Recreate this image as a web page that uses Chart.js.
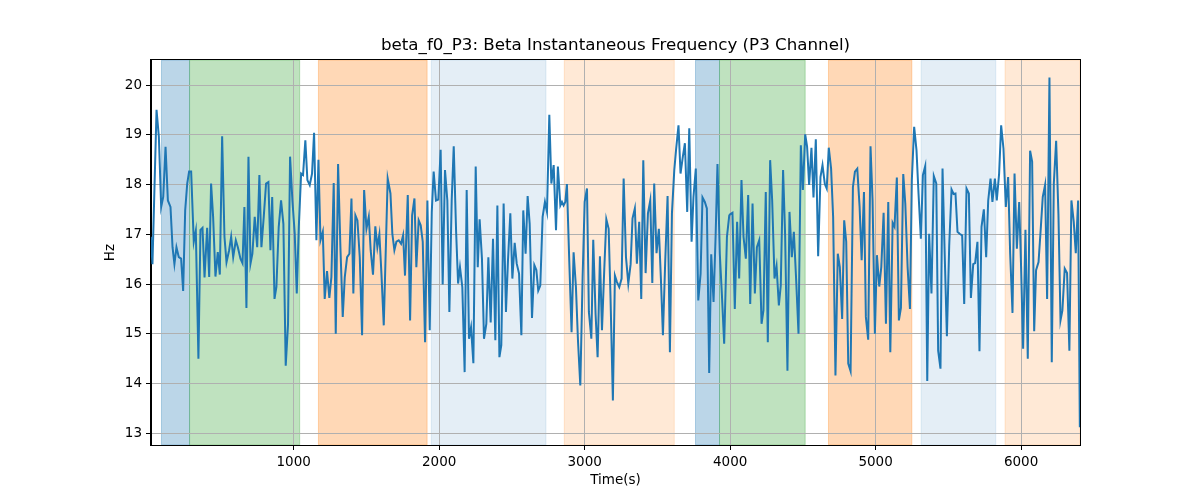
<!DOCTYPE html>
<html>
<head>
<meta charset="utf-8">
<script src="https://cdn.jsdelivr.net/npm/chart.js@4.4.0/dist/chart.umd.min.js"></script>
<style>
  html, body { margin: 0; padding: 0; background: #fff; }
</style>
</head>
<body>
<canvas id="freqChart" width="1200" height="500"></canvas>
<script>
// beta instantaneous frequency, P3 channel (time in s, value in Hz)
const times = [
  18,29,57,73,89,103,119,135,153,167,180,194,210,226,240,254,268,281,295,313,327,345,359,373,387,405,419,432,446,462,478,492,508,524,538,556,570,584,602,616,634,648,661,675,689,703,716,732,749,764,778,794,810,826,840,
  852,868,881,897,913,929,945,961,975,991,1007,1021,1035,1051,1064,1080,1094,1110,1126,1140,1156,1170,1184,1200,1213,1229,1245,1259,1275,1289,1305,1321,1337,1351,1367,1383,1397,1410,1424,1438,1454,1470,1484,1500,1516,1529,1545,1561,1575,1589,1603,1619,
  1646,1665,1678,1692,1706,1722,1738,1752,1765,1784,1800,1814,1830,1843,1859,1873,1887,1903,1919,1935,1949,1962,1978,1994,2010,2024,2040,2056,2070,2086,2100,2116,2130,2143,2159,2175,2189,2205,2219,2235,2251,2265,2278,2294,2308,2324,2338,2354,2370,2386,2400,2414,
  2427,2443,2459,2473,2489,2503,2519,2533,2549,2565,2578,2594,2608,2622,2638,2654,2668,2681,2695,2711,2727,2741,2757,2771,2787,2803,2816,2833,2844,2855,2867,2878,2894,2910,2924,2940,2954,2970,2986,3000,3016,3029,3046,3059,3075,3089,3105,3119,3135,3149,3165,3178,3194,3208,
  3222,3238,3254,3268,3284,3300,3316,3329,3345,3359,3375,3389,3403,3419,3435,3451,3465,3478,3494,3510,3524,3538,3554,3570,3586,3600,3616,3629,3645,3659,3675,3689,3705,3719,3735,3748,3764,3781,3797,3810,3826,3840,3856,3870,3886,3900,3913,3929,3943,3959,3978,3994,
  4000,4016,4032,4048,4062,4078,4092,4108,4124,4138,4154,4170,4184,4200,4216,4229,4245,4259,4275,4289,4305,4319,4335,4348,4364,4378,4394,4408,4424,4438,4454,4470,4486,4500,4516,4529,4543,4559,4573,4589,4605,4621,4635,4651,4664,4678,4694,4708,4724,4740,4754,4770,4784,
  4798,4812,4828,4844,4858,4874,4890,4904,4920,4933,4949,4965,4979,4995,5009,5025,5039,5055,5071,5087,5101,5117,5130,5146,5160,5174,5190,5204,5220,5236,5249,5265,5281,5295,5311,5325,5341,5355,5368,5384,5400,5417,5430,5446,5460,5476,5490,5506,5522,5536,5549,5563,5577,
  5595,5609,5625,5641,5655,5671,5684,5700,5714,5728,5744,5760,5774,5790,5803,5820,5833,5849,5863,5879,5895,5911,5925,5941,5955,5971,5987,6000,6014,6030,6046,6062,6076,6090,6103,6120,6136,6149,6165,6179,6195,6211,6225,6241,6257,6271,6284,6300,6316,6332,6346,6362,6376,6392,6404
];
const freqHz = [
  16.95,16.40,19.50,18.96,17.55,17.75,18.76,17.68,17.55,16.74,16.40,16.74,16.54,16.51,15.86,17.48,18.02,18.26,18.26,16.85,17.07,14.50,17.09,17.13,16.13,17.13,16.14,18.02,17.35,16.15,16.64,16.19,18.97,16.95,16.44,16.68,16.95,16.54,16.88,16.74,16.51,16.42,17.55,15.52,18.56,16.41,16.61,17.35,16.74,18.19,16.74,17.35,18.02,18.05,16.68,
  17.75,15.70,15.94,17.15,17.68,17.21,14.36,15.20,18.56,17.68,17.01,15.81,17.15,18.22,18.19,18.89,18.09,17.99,18.22,19.04,16.88,18.50,16.88,17.05,15.70,16.26,15.72,16.14,18.03,15.00,18.41,16.74,15.34,16.14,16.54,16.61,17.72,15.81,17.38,17.28,16.54,14.97,17.89,17.11,17.35,16.68,16.19,17.16,16.74,17.00,16.21,15.17,
  18.12,17.82,17.01,16.68,16.85,16.88,16.81,16.98,16.17,17.79,15.27,17.38,17.72,16.34,17.28,17.18,16.85,14.83,17.68,15.07,17.45,18.26,17.68,17.70,18.70,15.99,18.29,17.68,15.44,17.68,18.77,17.08,16.01,16.34,15.94,14.23,17.89,14.90,15.13,14.41,18.36,16.34,17.30,16.51,14.90,15.20,16.54,15.23,16.91,14.87,17.58,14.53,
  14.77,17.62,15.44,16.48,17.42,16.11,16.83,16.41,16.21,14.97,17.48,16.61,17.77,17.21,15.32,16.38,16.28,15.87,15.97,17.35,17.65,17.45,19.40,18.02,18.39,17.08,18.36,17.58,17.65,17.58,17.65,18.01,16.48,15.03,16.64,15.94,14.87,13.96,16.14,17.65,17.92,15.44,14.90,16.89,15.40,14.53,16.56,15.07,16.31,17.30,17.11,15.70,13.66,16.17,
  16.04,15.94,16.11,18.12,16.54,16.01,16.40,17.32,17.52,16.41,17.25,15.70,18.49,16.22,17.42,17.68,16.02,18.02,16.62,17.11,16.11,14.97,16.48,17.77,14.63,17.42,18.29,18.72,19.19,18.22,18.56,18.83,17.45,19.13,16.85,17.75,18.32,15.67,16.21,17.74,17.65,17.52,14.21,16.60,15.64,16.95,18.41,16.61,15.81,14.80,16.95,17.38,
  17.40,17.43,15.50,17.25,16.11,18.09,16.95,16.51,17.79,15.60,17.62,15.81,16.74,16.88,15.20,15.47,17.85,14.83,18.49,17.68,16.11,16.36,15.57,15.97,18.29,16.98,14.26,17.45,16.54,17.05,16.07,15.00,18.79,17.89,19.01,18.76,17.99,18.74,17.74,18.91,16.56,18.15,18.39,18.01,17.92,18.74,18.32,17.35,14.16,16.61,16.34,15.30,17.28,
  16.85,14.40,14.25,17.95,18.26,18.32,17.55,16.48,17.85,15.34,14.88,18.77,17.68,15.00,16.58,15.95,16.34,17.43,15.20,17.65,14.63,17.23,17.15,18.14,15.27,15.52,18.21,17.62,16.34,15.50,18.09,19.16,18.69,17.82,16.91,18.19,18.37,14.05,17.01,15.81,18.17,18.02,14.66,14.30,18.32,16.48,14.95,16.78,17.90,17.81,17.82,17.05,17.01,
  16.98,15.60,17.92,17.82,15.72,16.40,16.42,16.85,14.65,17.15,17.50,16.54,17.68,18.12,17.65,18.12,17.68,18.22,19.19,18.72,17.55,18.15,16.61,15.42,18.22,16.71,17.65,16.34,14.70,17.09,14.50,18.68,18.46,15.05,16.28,16.44,17.15,17.75,17.99,15.70,20.15,14.43,18.02,18.88,17.38,15.27,15.47,16.31,16.22,14.66,17.68,17.25,16.62,17.68,13.12
];

// shaded segments
const spanStart = [91, 284, 1170, 1946, 2860, 3762, 3927, 4676, 5313, 5890];
const spanEnd   = [284, 1041, 1917, 2734, 3616, 3927, 4516, 5249, 5826, 6405];
const spanKind  = ['blue', 'green', 'orange', 'lightblue', 'lightorange', 'blue', 'green', 'orange', 'lightblue', 'lightorange'];

const xTicks = [1000, 2000, 3000, 4000, 5000, 6000];
const yTicks = [13, 14, 15, 16, 17, 18, 19, 20];

const spanColors = {
    blue: 'rgba(31, 119, 180, 0.3)',
    green: 'rgba(44, 160, 44, 0.3)',
    orange: 'rgba(255, 127, 14, 0.3)',
    lightblue: 'rgba(31, 119, 180, 0.12)',
    lightorange: 'rgba(255, 127, 14, 0.17)'
};

const spansPlugin = {
    id: 'spans',
    beforeDraw(chart) {
        const { ctx, chartArea: a, scales: { x } } = chart;
        ctx.save();
        ctx.beginPath();
        ctx.rect(a.left, a.top, a.right - a.left, a.bottom - a.top);
        ctx.clip();
        spanStart.forEach((s, i) => {
            const x0 = x.getPixelForValue(s);
            const x1 = x.getPixelForValue(spanEnd[i]);
            ctx.fillStyle = spanColors[spanKind[i]];
            ctx.fillRect(x0, a.top, x1 - x0, a.bottom - a.top);
            ctx.strokeStyle = spanColors[spanKind[i]];
            ctx.lineWidth = 1;
            ctx.strokeRect(x0, a.top, x1 - x0, a.bottom - a.top);
        });
        ctx.restore();
    }
};

const framePlugin = {
    id: 'frame',
    afterDatasetsDraw(chart) {
        const { ctx, chartArea: a } = chart;
        ctx.save();
        ctx.strokeStyle = '#000';
        ctx.lineWidth = 1;
        ctx.strokeRect(Math.round(a.left) - 0.5, Math.round(a.top) - 0.5,
            Math.round(a.right - a.left) + 1, Math.round(a.bottom - a.top) + 1);
        ctx.restore();
    }
};

const font = { family: 'DejaVu Sans', size: 13.5 };

const ctxFreq = document.getElementById('freqChart').getContext('2d');
const freqChart = new Chart(ctxFreq, {
    type: 'line',
    data: {
        datasets: [{
            label: 'beta_f0_P3',
            data: times.map((t, i) => ({ x: t, y: freqHz[i] })),
            borderColor: '#1f77b4',
            borderWidth: 2,
            pointRadius: 0,
            tension: 0,
            fill: false
        }]
    },
    options: {
        responsive: false,
        animation: false,
        devicePixelRatio: 1,
        layout: { padding: { left: 0, right: 120, top: 0, bottom: 0 } },
        plugins: {
            legend: { display: false },
            tooltip: { enabled: false },
            title: {
                display: true,
                fullSize: false,
                text: 'beta_f0_P3: Beta Instantaneous Frequency (P3 Channel)',
                color: '#000',
                font: { family: 'DejaVu Sans', size: 16.7, weight: 'normal', lineHeight: 1.2 },
                padding: { top: 36, bottom: 4 }
            }
        },
        scales: {
            x: {
                type: 'linear',
                min: 19,
                max: 6405,
                afterBuildTicks: s => { s.ticks = xTicks.map(v => ({ value: v })); },
                afterFit: s => { s.height = 55; },
                ticks: { color: '#000', font: font, padding: 4, maxRotation: 0, callback: v => String(v) },
                grid: { color: '#b0b0b0', lineWidth: 1, tickColor: '#000', tickLength: 5 },
                border: { display: true, color: '#000' },
                title: {
                    display: true, text: 'Time(s)', color: '#000',
                    font: font, padding: { top: 0, bottom: 11 }
                }
            },
            y: {
                type: 'linear',
                min: 12.765,
                max: 20.502,
                afterBuildTicks: s => { s.ticks = yTicks.map(v => ({ value: v })); },
                afterFit: s => { s.width = 151; },
                ticks: { color: '#000', font: font, padding: 4, callback: v => String(v) },
                grid: { color: '#b0b0b0', lineWidth: 1, tickColor: '#000', tickLength: 5 },
                border: { display: true, color: '#000' },
                title: {
                    display: true, text: 'Hz', color: '#000',
                    font: font, padding: { top: 102, bottom: 0 }
                }
            }
        }
    },
    plugins: [spansPlugin, framePlugin]
});
</script>
</body>
</html>
